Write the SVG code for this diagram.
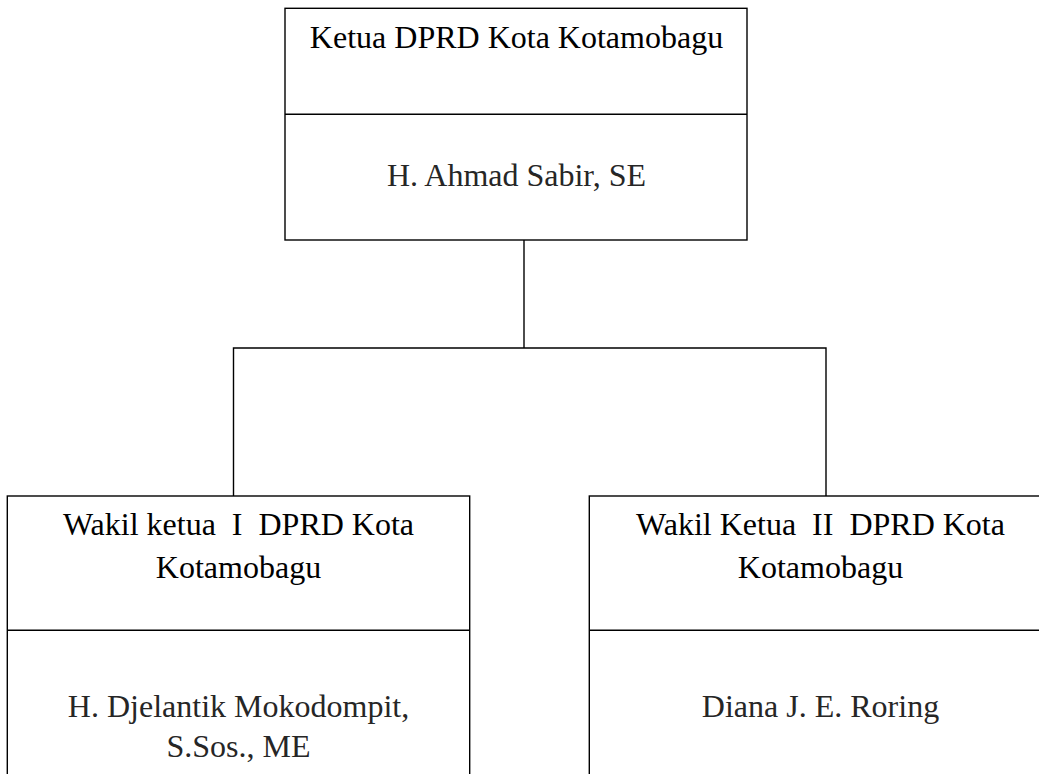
<svg xmlns="http://www.w3.org/2000/svg" width="1039" height="774" viewBox="0 0 1039 774">
<style>
.box{fill:#fff;stroke:#000;stroke-width:1.4}
.div{stroke:#000;stroke-width:1.4}
.conn{fill:none;stroke:#000;stroke-width:1.4}
.t{font-family:"Liberation Serif","Times New Roman",serif;font-size:32px;fill:#000;text-anchor:middle;white-space:pre}
.n{font-family:"Liberation Serif","Times New Roman",serif;font-size:32px;fill:#262626;text-anchor:middle;white-space:pre}
</style>
<rect width="1039" height="774" fill="#fff"/>
<g id="connectors">
<path class="conn" d="M524,240 V348"/>
<path class="conn" d="M233.5,496 V348 H826 V496"/>
</g>
<g id="ketua">
<rect class="box" x="285" y="8.3" width="462" height="231.7"/>
<line class="div" x1="285" y1="114.3" x2="747" y2="114.3"/>
<text class="t" x="516.5" y="48.3">Ketua DPRD Kota Kotamobagu</text>
<text class="n" x="516.5" y="185.7">H. Ahmad Sabir, SE</text>
</g>
<g id="wakil1">
<rect class="box" x="7.3" y="496" width="462.4" height="300"/>
<line class="div" x1="7.3" y1="630.3" x2="469.7" y2="630.3"/>
<text class="t" x="238.5" y="534.8" xml:space="preserve">Wakil ketua  I  DPRD Kota</text>
<text class="t" x="238.5" y="578">Kotamobagu</text>
<text class="n" x="238.5" y="716.7">H. Djelantik Mokodompit,</text>
<text class="n" x="238.5" y="756.5">S.Sos., ME</text>
</g>
<g id="wakil2">
<rect class="box" x="589.3" y="496" width="462.4" height="300"/>
<line class="div" x1="589.3" y1="630.3" x2="1052" y2="630.3"/>
<text class="t" x="820.5" y="534.8" xml:space="preserve">Wakil Ketua  II  DPRD Kota</text>
<text class="t" x="820.5" y="578">Kotamobagu</text>
<text class="n" x="820.5" y="716.7">Diana J. E. Roring</text>
</g>
</svg>
